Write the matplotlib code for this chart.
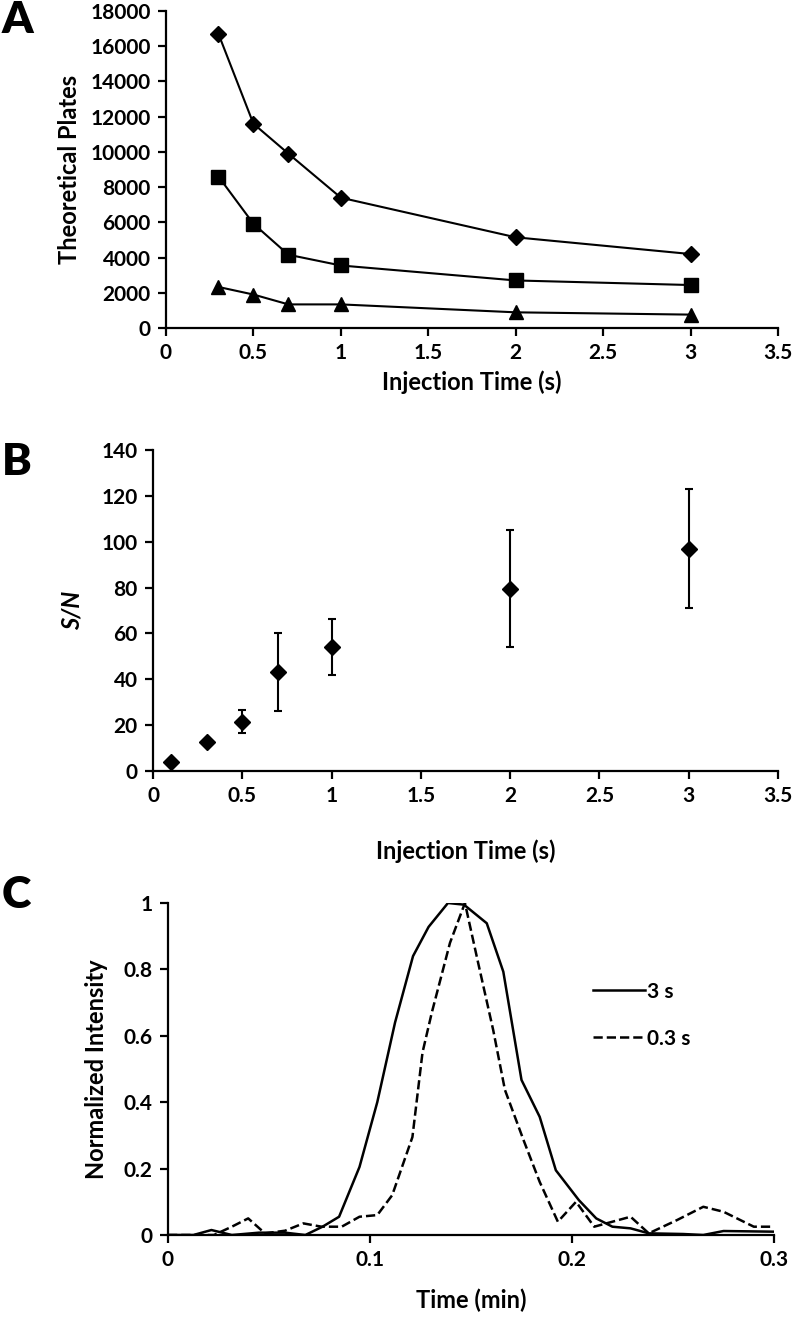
import matplotlib
matplotlib.use("Agg")
import matplotlib.pyplot as plt

plt.rcParams['font.family'] = ['Lato', 'DejaVu Sans']
plt.rcParams['font.weight'] = 'bold'
plt.rcParams['axes.labelweight'] = 'bold'

# Panel A: theoretical plates vs injection time
injTimeA = [0.3, 0.5, 0.7, 1, 2, 3]
platesDiamond = [16700, 11600, 9900, 7400, 5150, 4200]
platesSquare = [8600, 5920, 4160, 3550, 2700, 2440]
platesTriangle = [2330, 1900, 1340, 1340, 890, 760]

# Panel B: S/N vs injection time
injTimeB = [0.1, 0.3, 0.5, 0.7, 1, 2, 3]
snMean = [3.8, 12.5, 21.4, 43, 54, 79.5, 97]
snErr = [0, 0, 5, 17, 12.3, 25.4, 26]

# Panel C: normalized electropherograms
time3s = [0, 0.0126, 0.0215, 0.0316, 0.045, 0.058, 0.068, 0.0765, 0.0847, 0.0948,
          0.1036, 0.1124, 0.1213, 0.129, 0.1386, 0.1465, 0.1578, 0.166, 0.175, 0.184,
          0.192, 0.2034, 0.212, 0.22, 0.229, 0.238, 0.255, 0.265, 0.275, 0.3]
int3s = [0, 0, 0.015, 0, 0.007, 0.007, 0, 0.025, 0.055, 0.205,
         0.40, 0.64, 0.84, 0.928, 1.0, 0.995, 0.939, 0.793, 0.467, 0.356,
         0.195, 0.105, 0.05, 0.025, 0.02, 0.005, 0.003, 0, 0.012, 0.01]
time03s = [0, 0.0227, 0.0316, 0.0397, 0.048, 0.058, 0.067, 0.076, 0.086, 0.0948,
           0.1036, 0.111, 0.121, 0.126, 0.1306, 0.1396, 0.147, 0.1536, 0.161, 0.1668,
           0.176, 0.184, 0.193, 0.202, 0.211, 0.22, 0.229, 0.238, 0.252, 0.265,
           0.275, 0.29, 0.3]
int03s = [0, 0, 0.025, 0.05, 0.005, 0.013, 0.035, 0.025, 0.025, 0.055,
          0.06, 0.12, 0.295, 0.55, 0.67, 0.88, 1.0, 0.818, 0.617, 0.437,
          0.286, 0.16, 0.04, 0.1, 0.025, 0.04, 0.055, 0.005, 0.045, 0.085,
          0.07, 0.025, 0.025]

tickSize = 15
labelSize = 17
W, H = 800, 1317


def axes_px(left, top, right, bottom):
    return fig.add_axes([left / W, 1 - bottom / H, (right - left) / W, (bottom - top) / H])


def style(ax):
    for s in ['top', 'right']:
        ax.spines[s].set_visible(False)
    for s in ['left', 'bottom']:
        ax.spines[s].set_linewidth(1.6)
    ax.tick_params(direction='out', length=6, width=1.6, labelsize=tickSize, pad=5)


fig = plt.figure(figsize=(8, 13.17), dpi=100)

# ---- A ----
axA = axes_px(166, 11, 778, 328)
axA.plot(injTimeA, platesDiamond, 'k-', marker='D', markersize=8.5, lw=1.5)
axA.plot(injTimeA, platesSquare, 'k-', marker='s', markersize=9.5, lw=1.5)
axA.plot(injTimeA, platesTriangle, 'k-', marker='^', markersize=9.5, lw=1.5)
axA.set_xlim(0, 3.5)
axA.set_ylim(0, 18000)
axA.set_xticks([0, 0.5, 1, 1.5, 2, 2.5, 3, 3.5])
axA.set_xticklabels(['0', '0.5', '1', '1.5', '2', '2.5', '3', '3.5'])
axA.set_yticks(range(0, 18001, 2000))
style(axA)
axA.set_xlabel('Injection Time (s)', fontsize=labelSize, labelpad=5)
axA.set_ylabel('Theoretical Plates', fontsize=labelSize, labelpad=7)

# ---- B ----
axB = axes_px(153, 450, 778, 771)
axB.errorbar(injTimeB, snMean, yerr=snErr, fmt='D', color='k', markersize=8.5,
             ecolor='k', elinewidth=1.5, capsize=3, capthick=1.5)
axB.set_xlim(0, 3.5)
axB.set_ylim(0, 140)
axB.set_xticks([0, 0.5, 1, 1.5, 2, 2.5, 3, 3.5])
axB.set_xticklabels(['0', '0.5', '1', '1.5', '2', '2.5', '3', '3.5'])
axB.set_yticks(range(0, 141, 20))
style(axB)
axB.set_xlabel('Injection Time (s)', fontsize=labelSize, labelpad=24)
axB.set_ylabel('S/N', fontsize=labelSize, style='italic', labelpad=13)

# ---- C ----
axC = axes_px(168, 903, 774, 1235)
axC.plot(time3s, int3s, 'k-', lw=1.8, label='3 s')
axC.plot(time03s, int03s, 'k--', lw=1.8, label='0.3 s')
axC.set_xlim(0, 0.3)
axC.set_ylim(0, 1)
axC.set_xticks([0, 0.1, 0.2, 0.3])
axC.set_xticklabels(['0', '0.1', '0.2', '0.3'])
axC.set_yticks([0, 0.2, 0.4, 0.6, 0.8, 1])
axC.set_yticklabels(['0', '0.2', '0.4', '0.6', '0.8', '1'])
style(axC)
axC.set_xlabel('Time (min)', fontsize=labelSize, labelpad=13)
axC.set_ylabel('Normalized Intensity', fontsize=labelSize, labelpad=11)
leg = axC.legend(frameon=False, loc='upper left', bbox_to_anchor=(0.67, 0.82),
                 handlelength=2.5, handletextpad=0.1, labelspacing=1.3,
                 prop={'size': tickSize, 'weight': 'bold'})

# panel letters
for letter, ypx in [('A', 20), ('B', 462), ('C', 895)]:
    fig.text(2 / W, 1 - ypx / H, letter, fontsize=32, fontweight='heavy',
             ha='left', va='center')

fig.savefig('out.png', dpi=100)
